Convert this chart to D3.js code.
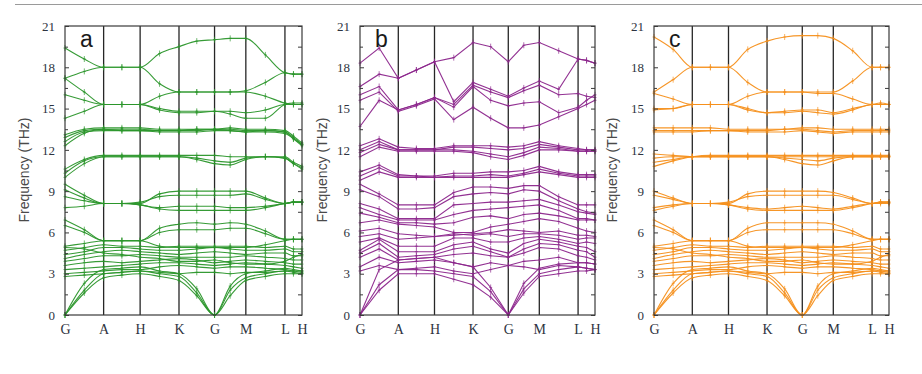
<!DOCTYPE html>
<html>
<head>
<meta charset="utf-8">
<script src="https://cdn.jsdelivr.net/npm/d3@7"></script>
<style>
  body { margin: 0; background: #fff; }
  svg { display: block; }
</style>
</head>
<body>
<div id="chart"></div>
<script>
// high-symmetry path
const kLabels = ["G", "A", "H", "K", "G", "M", "L", "H"];
const kPos = [0, 0.163, 0.317, 0.481, 0.631, 0.763, 0.928, 1];
const yTicks = [0, 3, 6, 9, 12, 15, 18, 21];
const yMinor = [1.5, 4.5, 7.5, 10.5, 13.5, 16.5, 19.5];

// each band: value at G, mid, A, mid, H, mid, K, mid, G, mid, M, mid, L, mid, H  (THz)
const bandsA = [
  [19.4, 18.6, 18.0, 18.0, 18.0, 19.0, 19.5, 19.9, 20.0, 20.1, 20.1, 18.9, 17.6, 17.5, 17.5],
  [17.2, 17.7, 18.0, 18.0, 18.0, 16.8, 16.2, 16.2, 16.2, 16.2, 16.2, 15.9, 15.4, 15.3, 15.3],
  [17.2, 16.2, 15.3, 15.3, 15.3, 15.9, 16.2, 16.2, 16.2, 16.2, 16.3, 16.9, 17.6, 17.5, 17.5],
  [16.0, 15.6, 15.3, 15.3, 15.3, 14.9, 14.7, 14.7, 14.8, 14.8, 14.7, 14.9, 15.3, 15.3, 15.3],
  [14.3, 14.8, 15.3, 15.3, 15.3, 15.0, 14.8, 14.8, 14.8, 14.6, 14.3, 14.3, 15.3, 15.4, 15.4],
  [12.3, 13.2, 13.5, 13.5, 13.5, 13.4, 13.4, 13.4, 13.5, 13.5, 13.4, 13.4, 13.3, 12.9, 12.4],
  [12.6, 13.3, 13.4, 13.4, 13.4, 13.4, 13.4, 13.5, 13.5, 13.4, 13.3, 13.4, 13.3, 12.8, 12.3],
  [12.9, 13.4, 13.5, 13.4, 13.4, 13.3, 13.3, 13.3, 13.4, 13.4, 13.3, 13.3, 13.2, 12.8, 12.4],
  [13.1, 13.5, 13.6, 13.6, 13.6, 13.5, 13.5, 13.5, 13.5, 13.6, 13.5, 13.5, 13.4, 13.0, 12.5],
  [10.0, 11.0, 11.5, 11.5, 11.5, 11.5, 11.5, 11.3, 11.0, 10.9, 11.3, 11.5, 11.4, 11.0, 10.6],
  [10.3, 11.2, 11.5, 11.5, 11.5, 11.5, 11.5, 11.4, 11.2, 11.1, 11.4, 11.5, 11.4, 11.0, 10.7],
  [10.6, 11.3, 11.6, 11.6, 11.6, 11.6, 11.6, 11.6, 11.6, 11.5, 11.5, 11.5, 11.5, 11.1, 10.8],
  [9.5, 8.7, 8.1, 8.1, 8.1, 8.8, 9.0, 9.0, 9.0, 9.0, 9.0, 8.5, 8.1, 8.2, 8.2],
  [9.1, 8.5, 8.1, 8.1, 8.2, 8.6, 8.7, 8.7, 8.7, 8.7, 8.8, 8.4, 8.1, 8.2, 8.2],
  [8.6, 8.3, 8.1, 8.1, 8.0, 7.8, 7.9, 7.9, 7.9, 7.8, 7.8, 7.9, 8.1, 8.2, 8.2],
  [7.8, 7.9, 8.1, 8.1, 8.0, 7.7, 7.6, 7.6, 7.6, 7.6, 7.6, 7.8, 8.1, 8.2, 8.2],
  [6.9, 6.2, 5.4, 5.4, 5.4, 6.3, 6.6, 6.7, 6.6, 6.7, 6.6, 6.1, 5.5, 5.5, 5.5],
  [6.5, 6.0, 5.4, 5.4, 5.4, 6.0, 6.2, 6.2, 6.2, 6.3, 6.3, 5.9, 5.5, 5.5, 5.5],
  [5.0, 5.2, 5.4, 5.4, 5.4, 5.0, 4.9, 4.9, 4.9, 4.9, 4.9, 5.1, 5.4, 5.5, 5.5],
  [4.7, 4.9, 5.1, 5.0, 5.0, 4.9, 5.0, 5.0, 5.0, 5.0, 5.0, 4.9, 5.0, 4.8, 4.8],
  [4.9, 4.8, 4.5, 4.4, 4.2, 4.1, 3.9, 3.9, 4.0, 3.8, 3.7, 3.7, 3.9, 4.2, 4.4],
  [4.4, 4.6, 4.9, 4.9, 4.8, 4.7, 4.7, 4.8, 4.9, 4.8, 4.7, 4.7, 4.8, 4.6, 4.6],
  [4.1, 4.4, 4.6, 4.7, 4.6, 4.5, 4.4, 4.5, 4.6, 4.5, 4.4, 4.5, 4.5, 4.3, 4.3],
  [3.9, 4.1, 4.3, 4.3, 4.4, 4.3, 4.2, 4.2, 4.2, 4.2, 4.3, 4.2, 4.1, 4.0, 4.0],
  [3.6, 3.8, 3.9, 3.8, 3.9, 4.0, 4.1, 4.0, 3.8, 3.9, 4.0, 3.9, 3.8, 3.7, 3.7],
  [3.3, 3.4, 3.5, 3.6, 3.7, 3.8, 3.8, 3.7, 3.6, 3.7, 3.8, 3.7, 3.6, 3.5, 3.4],
  [3.0, 3.1, 3.2, 3.3, 3.3, 3.5, 3.6, 3.5, 3.4, 3.5, 3.5, 3.4, 3.3, 3.2, 3.1],
  [2.8, 2.9, 3.0, 3.1, 3.2, 3.1, 3.0, 3.1, 3.1, 3.0, 3.1, 3.1, 3.2, 3.2, 3.2],
  [0.0, 1.6, 2.7, 2.9, 3.0, 2.8, 2.5, 1.4, 0.0, 1.4, 2.5, 2.8, 3.0, 3.0, 3.0],
  [0.0, 1.8, 3.0, 3.1, 3.2, 3.0, 2.8, 1.6, 0.0, 1.8, 2.7, 3.0, 3.2, 3.1, 3.0],
  [0.0, 2.3, 3.3, 3.4, 3.5, 3.2, 3.0, 1.9, 0.0, 2.1, 3.0, 3.2, 3.4, 3.3, 3.2]
];

const bandsB = [
  [18.3, 19.4, 17.2, 17.8, 18.4, 18.7, 19.8, 19.5, 18.4, 19.6, 19.8, 19.2, 18.6, 18.5, 18.3],
  [16.6, 17.5, 17.2, 17.8, 18.4, 15.5, 16.9, 16.4, 15.9, 16.5, 17.0, 16.4, 18.6, 18.5, 18.3],
  [16.0, 16.6, 14.9, 15.3, 15.8, 15.3, 16.7, 16.2, 15.8, 16.3, 16.7, 16.0, 16.1, 15.9, 15.8],
  [15.6, 16.2, 14.8, 15.2, 15.7, 14.2, 15.1, 14.3, 13.6, 13.6, 13.8, 14.4, 15.0, 15.3, 15.6],
  [13.7, 15.6, 14.9, 15.3, 15.8, 15.1, 16.6, 15.6, 15.2, 15.4, 15.5, 14.7, 15.1, 15.6, 16.0],
  [12.3, 12.8, 12.2, 12.1, 12.1, 12.3, 12.3, 12.3, 12.2, 12.3, 12.6, 12.3, 12.1, 12.0, 12.0],
  [12.0, 12.6, 12.0, 12.0, 12.0, 12.2, 12.2, 12.1, 12.0, 12.1, 12.4, 12.2, 12.0, 12.0, 12.0],
  [11.8, 12.4, 12.0, 12.0, 12.0, 12.0, 11.9, 11.7, 11.5, 11.8, 12.2, 12.1, 11.9, 11.9, 11.9],
  [11.5, 12.2, 11.9, 11.9, 11.9, 11.9, 11.8, 11.5, 11.3, 11.6, 12.0, 12.0, 11.9, 11.9, 11.9],
  [10.4, 10.9, 10.2, 10.1, 10.1, 10.3, 10.3, 10.4, 10.4, 10.5, 10.8, 10.4, 10.2, 10.2, 10.2],
  [10.1, 10.7, 10.1, 10.1, 10.0, 10.1, 10.1, 10.2, 10.1, 10.3, 10.6, 10.3, 10.1, 10.1, 10.1],
  [9.8, 10.4, 10.0, 10.0, 10.0, 10.0, 10.0, 10.0, 10.0, 10.2, 10.4, 10.2, 10.0, 10.0, 10.0],
  [9.5, 8.8, 8.0, 8.0, 8.0, 8.9, 9.3, 9.3, 9.2, 9.4, 9.4, 8.6, 8.0, 8.0, 8.0],
  [9.1, 8.6, 7.7, 7.7, 7.8, 8.6, 8.8, 8.9, 8.8, 9.1, 9.0, 8.3, 7.7, 7.5, 7.4],
  [8.1, 7.7, 7.0, 7.0, 7.0, 8.0, 8.1, 8.2, 8.2, 8.3, 8.4, 8.0, 7.5, 7.4, 7.3],
  [7.8, 7.3, 6.9, 6.9, 6.9, 7.3, 7.6, 7.7, 7.8, 7.9, 8.0, 7.6, 7.0, 7.0, 6.9],
  [7.4, 7.1, 6.7, 6.7, 6.6, 6.7, 7.1, 7.2, 7.0, 7.3, 7.4, 7.2, 6.9, 6.9, 6.9],
  [6.7, 6.9, 6.6, 6.5, 6.4, 6.0, 6.0, 6.4, 6.6, 6.8, 7.0, 6.8, 6.3, 6.1, 6.0],
  [6.1, 6.3, 5.9, 5.8, 5.7, 5.8, 5.9, 6.0, 6.2, 6.1, 6.0, 6.1, 5.8, 5.8, 5.7],
  [5.7, 5.9, 5.5, 5.6, 5.7, 5.9, 5.8, 5.9, 5.7, 5.9, 5.9, 5.8, 5.5, 5.6, 5.6],
  [5.3, 5.6, 5.0, 5.0, 5.0, 5.6, 5.6, 5.3, 5.3, 5.6, 5.7, 5.5, 5.2, 5.3, 5.2],
  [4.7, 5.5, 4.6, 4.6, 4.6, 5.1, 5.3, 4.8, 4.5, 5.2, 5.5, 5.3, 5.0, 4.9, 4.6],
  [4.5, 5.2, 4.2, 4.3, 4.4, 4.8, 5.0, 4.6, 4.2, 4.8, 5.2, 5.1, 4.7, 4.6, 4.2],
  [4.2, 4.8, 4.0, 4.1, 4.2, 4.4, 4.5, 4.3, 4.2, 4.5, 4.9, 4.8, 4.3, 4.2, 4.0],
  [3.5, 4.2, 3.8, 3.9, 4.0, 3.8, 3.5, 3.8, 3.6, 3.9, 4.0, 4.2, 3.8, 3.8, 3.7],
  [3.2, 3.6, 3.3, 3.4, 3.5, 3.2, 3.0, 3.3, 3.6, 3.5, 3.3, 3.6, 3.5, 3.4, 3.3],
  [0.0, 1.8, 3.0, 3.0, 3.0, 2.6, 2.2, 1.3, 0.0, 1.6, 2.8, 3.0, 3.2, 3.2, 3.3],
  [0.0, 2.2, 3.3, 3.3, 3.2, 3.0, 2.8, 1.7, 0.0, 1.9, 3.0, 3.3, 3.5, 3.4, 3.3],
  [0.0, 3.3, 4.0, 4.1, 4.2, 3.8, 3.5, 2.0, 0.0, 2.3, 3.4, 3.7, 3.8, 3.8, 3.7]
];

const bandsC = [
  [20.2, 19.3, 18.0, 18.0, 18.0, 19.3, 19.9, 20.2, 20.3, 20.3, 20.1, 19.2, 18.0, 18.0, 18.0],
  [16.2, 17.1, 18.0, 18.0, 18.0, 16.9, 16.2, 16.2, 16.2, 16.2, 16.2, 17.0, 18.0, 18.0, 18.0],
  [16.1, 15.7, 15.3, 15.3, 15.3, 15.9, 16.2, 16.2, 16.2, 16.1, 16.1, 15.7, 15.3, 15.3, 15.3],
  [15.0, 15.0, 15.3, 15.3, 15.3, 14.9, 14.7, 14.8, 14.9, 14.9, 14.7, 15.0, 15.3, 15.4, 15.3],
  [14.9, 15.0, 15.3, 15.3, 15.3, 15.0, 14.7, 14.7, 14.8, 14.7, 14.6, 14.9, 15.3, 15.3, 15.3],
  [13.6, 13.6, 13.6, 13.6, 13.5, 13.5, 13.5, 13.5, 13.6, 13.6, 13.5, 13.5, 13.5, 13.5, 13.5],
  [13.4, 13.4, 13.4, 13.4, 13.4, 13.4, 13.4, 13.5, 13.5, 13.4, 13.3, 13.4, 13.4, 13.4, 13.4],
  [13.3, 13.3, 13.3, 13.4, 13.4, 13.3, 13.3, 13.3, 13.4, 13.3, 13.2, 13.3, 13.3, 13.3, 13.3],
  [11.7, 11.6, 11.5, 11.5, 11.5, 11.5, 11.5, 11.5, 11.5, 11.5, 11.5, 11.5, 11.5, 11.5, 11.5],
  [11.4, 11.5, 11.5, 11.5, 11.5, 11.5, 11.5, 11.4, 11.3, 11.2, 11.4, 11.5, 11.5, 11.5, 11.5],
  [11.1, 11.3, 11.5, 11.5, 11.5, 11.5, 11.5, 11.3, 11.0, 10.9, 11.2, 11.5, 11.5, 11.5, 11.5],
  [10.8, 11.2, 11.5, 11.6, 11.6, 11.6, 11.6, 11.6, 11.6, 11.6, 11.6, 11.6, 11.6, 11.6, 11.6],
  [9.0, 8.5, 8.1, 8.1, 8.1, 8.8, 9.0, 9.0, 9.0, 9.0, 8.9, 8.5, 8.1, 8.2, 8.2],
  [8.7, 8.4, 8.1, 8.1, 8.2, 8.6, 8.7, 8.7, 8.7, 8.7, 8.7, 8.4, 8.1, 8.2, 8.2],
  [7.8, 8.0, 8.1, 8.1, 8.0, 7.8, 7.7, 7.8, 7.9, 7.8, 7.7, 7.9, 8.1, 8.1, 8.1],
  [7.6, 7.9, 8.1, 8.1, 8.0, 7.7, 7.6, 7.6, 7.6, 7.6, 7.6, 7.8, 8.1, 8.2, 8.2],
  [6.9, 6.2, 5.4, 5.4, 5.4, 6.3, 6.7, 6.7, 6.7, 6.7, 6.6, 6.1, 5.5, 5.5, 5.5],
  [6.5, 6.0, 5.4, 5.4, 5.4, 6.0, 6.2, 6.2, 6.2, 6.2, 6.2, 5.9, 5.5, 5.5, 5.5],
  [5.0, 5.2, 5.4, 5.4, 5.4, 5.0, 4.9, 4.9, 4.9, 4.9, 4.9, 5.1, 5.4, 5.5, 5.5],
  [4.7, 4.9, 5.1, 5.0, 5.0, 4.9, 5.0, 5.0, 5.0, 5.0, 5.0, 4.9, 5.0, 4.8, 4.8],
  [4.9, 4.8, 4.5, 4.4, 4.2, 4.1, 3.9, 3.9, 4.0, 3.8, 3.7, 3.7, 3.9, 4.2, 4.4],
  [4.4, 4.6, 4.9, 4.9, 4.8, 4.7, 4.7, 4.8, 4.9, 4.8, 4.7, 4.7, 4.8, 4.6, 4.6],
  [4.1, 4.4, 4.6, 4.7, 4.6, 4.5, 4.4, 4.5, 4.6, 4.5, 4.4, 4.5, 4.5, 4.3, 4.3],
  [3.9, 4.1, 4.3, 4.3, 4.4, 4.3, 4.2, 4.2, 4.2, 4.2, 4.3, 4.2, 4.1, 4.0, 4.0],
  [3.6, 3.8, 3.9, 3.8, 3.9, 4.0, 4.1, 4.0, 3.8, 3.9, 4.0, 3.9, 3.8, 3.7, 3.7],
  [3.3, 3.4, 3.5, 3.6, 3.7, 3.8, 3.8, 3.7, 3.6, 3.7, 3.8, 3.7, 3.6, 3.5, 3.4],
  [3.0, 3.1, 3.2, 3.3, 3.3, 3.5, 3.6, 3.5, 3.4, 3.5, 3.5, 3.4, 3.3, 3.2, 3.1],
  [2.8, 2.9, 3.0, 3.1, 3.2, 3.1, 3.0, 3.1, 3.1, 3.0, 3.1, 3.1, 3.2, 3.2, 3.2],
  [0.0, 1.6, 2.7, 2.9, 3.0, 2.8, 2.5, 1.4, 0.0, 1.4, 2.5, 2.8, 3.0, 3.0, 3.0],
  [0.0, 1.8, 3.0, 3.1, 3.2, 3.0, 2.8, 1.6, 0.0, 1.8, 2.7, 3.0, 3.2, 3.1, 3.0],
  [0.0, 2.3, 3.3, 3.4, 3.5, 3.2, 3.0, 1.9, 0.0, 2.1, 3.0, 3.2, 3.4, 3.3, 3.2]
];

const W = 922, H = 374;
const yTop = 26, yBot = 315;

const svg = d3.select("#chart").append("svg")
  .attr("width", W)
  .attr("height", H);

// thin rule along the top of the figure
svg.append("line")
  .attr("x1", 15).attr("x2", W)
  .attr("y1", 4.5).attr("y2", 4.5)
  .attr("stroke", "#9a9a9a")
  .attr("stroke-width", 1);

const panels = [
  { letter: "a", bands: bandsA, color: "#2b962b", x0: 65, x1: 302, titleX: 25, curve: d3.curveMonotoneX },
  { letter: "b", bands: bandsB, color: "#8c268c", x0: 360, x1: 595, titleX: 323, curve: d3.curveLinear },
  { letter: "c", bands: bandsC, color: "#f5901c", x0: 654, x1: 889, titleX: 613, curve: d3.curveMonotoneX }
];

const y = d3.scaleLinear().domain([0, 21]).range([yBot, yTop]);

// sample positions: high-symmetry points plus the midpoint of each segment
const kSample = [];
kPos.forEach((p, i) => {
  kSample.push(p);
  if (i < kPos.length - 1) kSample.push((p + kPos[i + 1]) / 2);
});

panels.forEach(p => {
  const x = d3.scaleLinear().domain([0, 1]).range([p.x0, p.x1]);
  const g = svg.append("g");

  // vertical lines at the interior high-symmetry points
  g.append("g")
    .selectAll("line")
    .data(kPos.slice(1, -1))
    .join("line")
    .attr("x1", d => x(d)).attr("x2", d => x(d))
    .attr("y1", yTop).attr("y2", yBot)
    .attr("stroke", "#262626")
    .attr("stroke-width", 1.3);

  // bands
  const line = d3.line()
    .x((d, i) => x(kSample[i]))
    .y(d => y(d))
    .curve(p.curve);

  g.append("g")
    .selectAll("path")
    .data(p.bands)
    .join("path")
    .attr("d", line)
    .attr("fill", "none")
    .attr("stroke", p.color)
    .attr("stroke-width", 1.1)
    .attr("stroke-opacity", 0.95);

  // "+" point markers
  const pts = [];
  p.bands.forEach(b => b.forEach((v, i) => pts.push([x(kSample[i]), y(v)])));
  g.append("path")
    .attr("d", pts.map(([px, py]) =>
      `M${px},${py - 3}V${py + 3}M${px - 1.5},${py}H${px + 1.5}`).join(""))
    .attr("fill", "none")
    .attr("stroke", p.color)
    .attr("stroke-width", 0.8)
    .attr("stroke-opacity", 0.85);

  // frame
  g.append("rect")
    .attr("x", p.x0).attr("y", yTop)
    .attr("width", p.x1 - p.x0).attr("height", yBot - yTop)
    .attr("fill", "none")
    .attr("stroke", "#3a3a3a")
    .attr("stroke-width", 1.2);

  // y axis: labelled inward ticks, minor ticks, mirrored on right
  const yAxis = g.append("g")
    .attr("transform", `translate(${p.x0},0)`)
    .call(d3.axisLeft(y).tickValues(yTicks).tickSize(-4).tickPadding(10));
  yAxis.select(".domain").remove();
  yAxis.selectAll("line").attr("stroke", "#3a3a3a");
  yAxis.selectAll("text")
    .attr("font-family", "'Liberation Serif', 'DejaVu Serif', serif")
    .attr("font-size", 13)
    .attr("fill", "#2e3340");

  const yMin = g.append("g")
    .attr("transform", `translate(${p.x0},0)`)
    .call(d3.axisLeft(y).tickValues(yMinor).tickSize(-3).tickFormat(""));
  yMin.select(".domain").remove();
  yMin.selectAll("line").attr("stroke", "#3a3a3a");

  const yR = g.append("g")
    .attr("transform", `translate(${p.x1},0)`)
    .call(d3.axisRight(y).tickValues(yTicks.concat(yMinor)).tickSize(-4).tickFormat(""));
  yR.select(".domain").remove();
  yR.selectAll("line").attr("stroke", "#3a3a3a");

  // x axis labels
  const xAxis = g.append("g")
    .attr("transform", `translate(0,${yBot})`)
    .call(d3.axisBottom(x).tickValues(kPos).tickSize(0).tickPadding(9)
      .tickFormat((d, i) => kLabels[i]));
  xAxis.select(".domain").remove();
  xAxis.selectAll("text")
    .attr("font-family", "'Liberation Serif', 'DejaVu Serif', serif")
    .attr("font-size", 14)
    .attr("fill", "#2e3340");

  // axis title
  g.append("text")
    .attr("transform", `translate(${p.titleX},170) rotate(-90)`)
    .attr("text-anchor", "middle")
    .attr("dominant-baseline", "middle")
    .attr("font-family", "'Liberation Sans', Arial, sans-serif")
    .attr("font-size", 14)
    .attr("fill", "#4a4a4a")
    .text("Frequency (THz)");

  // panel letter
  g.append("text")
    .attr("x", p.x0 + 15)
    .attr("y", 47)
    .attr("font-family", "'Liberation Sans', Arial, sans-serif")
    .attr("font-size", 23)
    .attr("fill", "#1a1a1a")
    .text(p.letter);
});
</script>
</body>
</html>
